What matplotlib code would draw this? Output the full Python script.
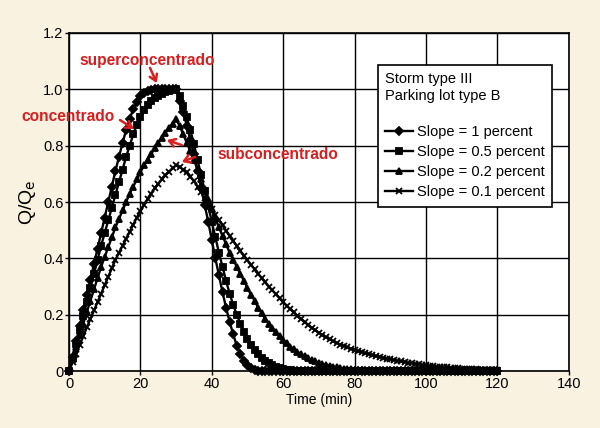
import matplotlib
matplotlib.use("Agg")
import matplotlib.pyplot as plt

plt.rcParams['font.family'] = ['Liberation Sans', 'DejaVu Sans']

# tiempo en minutos, una muestra por minuto
tiempo = list(range(0, 121))

# Slope = 1 percent
q_s1 = ([0.0, 0.05, 0.105, 0.16, 0.215, 0.27, 0.325, 0.38, 0.435, 0.49, 0.545,
         0.60, 0.655, 0.71, 0.76, 0.81, 0.855, 0.895, 0.93, 0.955, 0.975,
         0.988, 0.995, 0.998, 1.0, 1.0, 1.0, 1.0, 1.0, 1.0, 1.0]
        + [0.96, 0.92, 0.87, 0.82, 0.77, 0.71, 0.65, 0.59, 0.53, 0.465,
           0.40, 0.34, 0.28, 0.225, 0.175, 0.13, 0.09, 0.06, 0.035, 0.02,
           0.01, 0.005, 0.002, 0.0, 0.0, 0.0, 0.0, 0.0, 0.0, 0.0]
        + [0.0] * 60)

# Slope = 0.5 percent
q_s05 = ([0.0, 0.045, 0.095, 0.145, 0.195, 0.245, 0.295, 0.345, 0.395, 0.445,
          0.49, 0.535, 0.58, 0.625, 0.67, 0.715, 0.76, 0.80, 0.84, 0.875, 0.90,
          0.925, 0.945, 0.96, 0.97, 0.978, 0.985, 0.99, 0.995, 0.998, 1.0]
         + [0.975, 0.94, 0.90, 0.855, 0.805, 0.75, 0.695, 0.64, 0.585, 0.53,
            0.475, 0.42, 0.37, 0.32, 0.275, 0.235, 0.20, 0.168, 0.14, 0.115,
            0.094, 0.076, 0.06, 0.047, 0.036, 0.027, 0.02, 0.014, 0.01, 0.007,
            0.005, 0.003, 0.002, 0.001, 0.001, 0.0, 0.0, 0.0, 0.0, 0.0]
         + [0.0] * 50)

# Slope = 0.2 percent
q_s02 = ([0.0, 0.042, 0.085, 0.127, 0.168, 0.21, 0.25, 0.29, 0.33, 0.37,
          0.405, 0.44, 0.475, 0.51, 0.54, 0.57, 0.60, 0.63, 0.655, 0.68,
          0.705, 0.73, 0.75, 0.77, 0.79, 0.81, 0.828, 0.845, 0.862, 0.878, 0.893]
         + [0.87, 0.84, 0.81, 0.78, 0.75, 0.715, 0.68, 0.645, 0.61, 0.575,
            0.54, 0.51, 0.48, 0.45, 0.42, 0.395, 0.37, 0.345, 0.32, 0.295,
            0.27, 0.25, 0.225, 0.205, 0.185, 0.168, 0.152, 0.137, 0.123, 0.11,
            0.098, 0.087, 0.077, 0.068, 0.06, 0.053, 0.046, 0.04, 0.035, 0.03,
            0.026, 0.022, 0.019, 0.016, 0.013, 0.011, 0.009, 0.007, 0.006, 0.005,
            0.004, 0.003, 0.002, 0.0015, 0.001, 0.001, 0.0, 0.0, 0.0, 0.0]
         + [0.0] * 30)

# Slope = 0.1 percent
q_s01 = ([0.0, 0.031, 0.062, 0.093, 0.124, 0.155, 0.185, 0.215, 0.245, 0.275,
          0.305, 0.335, 0.365, 0.395, 0.42, 0.445, 0.47, 0.495, 0.52, 0.545,
          0.567, 0.59, 0.61, 0.63, 0.648, 0.665, 0.68, 0.695, 0.708, 0.72, 0.73]
         + [0.725, 0.715, 0.705, 0.69, 0.675, 0.655, 0.635, 0.615, 0.595, 0.575,
            0.555, 0.536, 0.517, 0.498, 0.48, 0.462, 0.444, 0.427, 0.41, 0.393,
            0.377, 0.361, 0.345, 0.33, 0.315, 0.30, 0.286, 0.272, 0.258, 0.245,
            0.232, 0.22, 0.208, 0.196, 0.185, 0.174, 0.164, 0.154, 0.145, 0.136,
            0.128, 0.12, 0.113, 0.106, 0.10, 0.094, 0.089, 0.084, 0.079, 0.075,
            0.071, 0.067, 0.063, 0.06, 0.056, 0.053, 0.05, 0.047, 0.044, 0.042,
            0.039, 0.037, 0.034, 0.032, 0.03, 0.028, 0.026, 0.024, 0.022, 0.021,
            0.019, 0.017, 0.016, 0.015, 0.014, 0.013, 0.012, 0.011, 0.01, 0.009,
            0.008, 0.007, 0.007, 0.006, 0.005, 0.005, 0.004, 0.004, 0.003, 0.003])

etiquetas = ["Slope = 1 percent", "Slope = 0.5 percent",
             "Slope = 0.2 percent", "Slope = 0.1 percent"]
xticks = [0, 20, 40, 60, 80, 100, 120, 140]
yticks = [0, 0.2, 0.4, 0.6, 0.8, 1.0, 1.2]
yticklabels = ["0", "0.2", "0.4", "0.6", "0.8", "1.0", "1.2"]

fondo = "#FAF2E0"
rojo = "#D81E1E"

fig = plt.figure(figsize=(6, 4.28), dpi=100, facecolor=fondo)
ax = fig.add_axes([0.115, 0.133, 0.833, 0.79])

series = [(q_s1, "D", 4.2), (q_s05, "s", 4.2), (q_s02, "^", 5), (q_s01, "x", 5)]
for (q, mk, ms), lab in zip(series, etiquetas):
    ax.plot(tiempo, q, color="black", lw=1.7, marker=mk, ms=ms,
            mew=1.3, label=lab, clip_on=False, zorder=3)

ax.set_xlim(0, 140)
ax.set_ylim(0, 1.2)
ax.set_xticks(xticks)
ax.set_yticks(yticks)
ax.set_yticklabels(yticklabels)
ax.tick_params(labelsize=10.5, length=3, width=1, color="black", pad=1)
ax.grid(True, color="black", lw=1)
for s in ax.spines.values():
    s.set_linewidth(1.2)
ax.set_xlabel("Time (min)", fontsize=10, labelpad=2)
ax.set_ylabel("Q/Q$_\\mathrm{e}$", fontsize=14, labelpad=4)

leg = ax.legend(title="Storm type III\nParking lot type B\n", loc="upper left",
                bbox_to_anchor=(0.618, 0.905), fontsize=10.5, title_fontsize=10.5,
                fancybox=False, edgecolor="black", framealpha=1,
                handlelength=1.9, handletextpad=0.3, labelspacing=0.42,
                borderpad=0.5, borderaxespad=0, alignment="left")
leg.get_frame().set_linewidth(1.2)
leg.set_zorder(5)

# anotaciones en rojo
flecha = dict(arrowstyle="->,head_length=0.45,head_width=0.28", color=rojo,
              lw=1.8, shrinkA=0, shrinkB=0)
estilo = dict(color=rojo, fontsize=11.2, fontweight="bold", ha="center",
              va="center", clip_on=False, zorder=6)
ax.text(22.0, 1.104, "superconcentrado", **estilo)
ax.text(-0.3, 0.902, "concentrado", **estilo)
ax.text(58.5, 0.77, "subconcentrado", **estilo)
ax.annotate("", xy=(24.6, 1.022), xytext=(22.7, 1.076), arrowprops=flecha,
            annotation_clip=False)
ax.annotate("", xy=(18.2, 0.859), xytext=(14.3, 0.891), arrowprops=flecha,
            annotation_clip=False)
ax.annotate("", xy=(27.4, 0.820), xytext=(31.6, 0.802), arrowprops=flecha)
ax.annotate("", xy=(31.6, 0.742), xytext=(35.3, 0.760), arrowprops=flecha)

plt.savefig("out.png", dpi=100, facecolor=fondo)
